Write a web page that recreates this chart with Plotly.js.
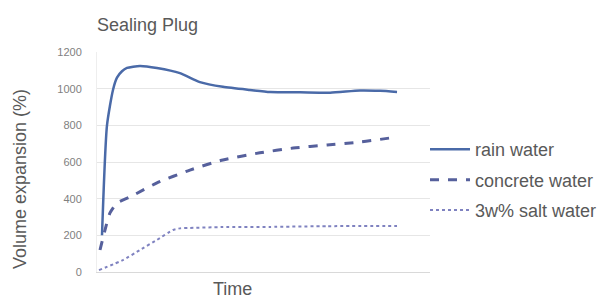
<!DOCTYPE html>
<html><head><meta charset="utf-8">
<script src="https://cdn.plot.ly/plotly-3.0.1.min.js"></script>
<style>body{margin:0;background:#fff}#chart{width:614px;height:300px}</style>
</head><body><div id="chart"></div>
<script>
const seriesNames = ["rain water", "concrete water", "3w% salt water"];
const rainTime = [1.5, 3.0, 4.8, 6.0, 7.5, 9.0, 12.9, 18.0, 24.9, 30.9, 37.8, 45.9, 52.0, 61.0, 70.0, 79.0, 85.0, 90.1];
const rainValues = [200, 800, 993, 1060, 1095, 1113, 1124, 1113, 1085, 1036, 1010, 993, 982, 980, 978, 990, 988, 982];
const concreteTime = [0.9, 2.4, 3.9, 6.0, 9.9, 18.0, 27.9, 37.8, 48.9, 58.9, 69.1, 79.0, 88.0];
const concreteValues = [120, 229, 322, 376, 409, 486, 556, 611, 650, 676, 693, 709, 731];
const saltTime = [0.6, 7.8, 12.9, 18.0, 22.8, 24.9, 37.8, 52.0, 69.1, 90.1];
const saltValues = [10, 65, 120, 175, 229, 238, 245, 246, 250, 251];
const yTicks = [0, 200, 400, 600, 800, 1000, 1200];

const textColor = "#595959";
const traces = [
  {x: rainTime, y: rainValues, name: seriesNames[0], legendgroup: "a", mode: "lines",
   line: {color: "#4a6aa8", width: 2.5, shape: "spline", smoothing: 0.6}},
  {x: concreteTime, y: concreteValues, name: seriesNames[1], legendgroup: "b", mode: "lines",
   line: {color: "#56609c", width: 3, dash: "dash", shape: "spline", smoothing: 0.6}},
  {x: saltTime, y: saltValues, name: seriesNames[2], legendgroup: "c", mode: "lines",
   line: {color: "#7f82c0", width: 2, dash: "dot", shape: "spline", smoothing: 0.4}}
];
const layout = {
  width: 614, height: 300,
  margin: {l: 97, r: 184, t: 52, b: 28, pad: 0},
  paper_bgcolor: "#fff", plot_bgcolor: "#fff",
  font: {family: "Liberation Sans, Arial, sans-serif", color: textColor, size: 18},
  title: {text: "Sealing Plug", x: 97/614, xanchor: "left", y: 1 - 25/300, yanchor: "middle",
          font: {size: 18, color: textColor}},
  xaxis: {range: [0, 100], showticklabels: false, showgrid: false, zeroline: false,
          showline: true, linecolor: "#d9d9d9", linewidth: 1, ticks: ""},
  yaxis: {range: [0, 1200], tickvals: yTicks, ticktext: yTicks.map(String), showgrid: true,
          gridcolor: "#e6e6e6", gridwidth: 1, zeroline: false, showline: true, linecolor: "#eeeeee",
          ticks: "", ticklabelstandoff: 12, tickfont: {size: 11, color: "#7f7f7f"}},
  showlegend: true,
  legend: {x: 0.985, xanchor: "left", y: 0.418, yanchor: "middle", traceorder: "grouped",
           tracegroupgap: 4, itemwidth: 40, font: {size: 18, color: textColor}, bgcolor: "rgba(0,0,0,0)"},
  annotations: [
    {text: "Time", xref: "paper", yref: "paper", x: (232-97)/333, y: -17/220, xanchor: "center",
     yanchor: "middle", showarrow: false, font: {size: 18, color: textColor}},
    {text: "Volume expansion (%)", xref: "paper", yref: "paper", x: -77/333, y: (272-179)/220,
     xanchor: "center", yanchor: "middle", textangle: -90, showarrow: false,
     font: {size: 18, color: textColor}}
  ]
};
Plotly.newPlot("chart", traces, layout, {displayModeBar: false, staticPlot: true});
</script></body></html>
